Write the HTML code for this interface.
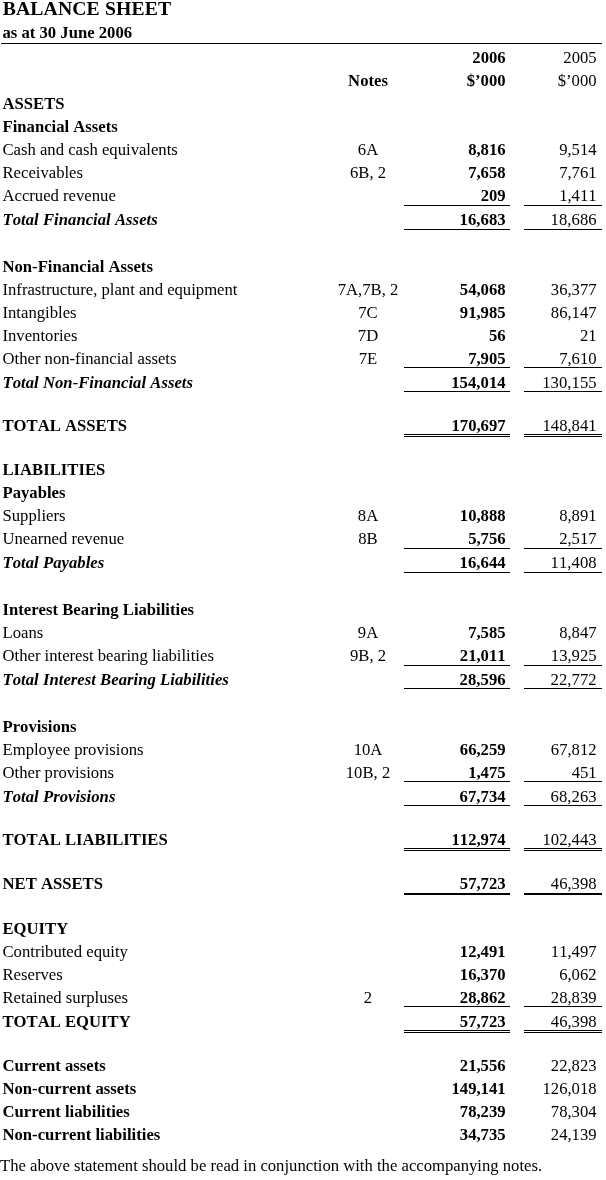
<!DOCTYPE html>
<html lang="en">
<head>
<meta charset="utf-8">
<title>Balance Sheet</title>
<style>
html,body{margin:0;padding:0;background:#fff;}
body{width:606px;height:1180px;position:relative;overflow:hidden;font-family:"Liberation Serif","Times New Roman",serif;font-size:16.67px;color:#000;font-kerning:none;line-height:22px;}
.r{position:absolute;left:0;width:606px;height:22px;white-space:nowrap;}
.r span{position:absolute;top:0;}
.l{left:2.5px;}
.n{left:318px;width:100px;text-align:center;}
.a{right:100.4px;font-weight:bold;font-style:normal;}
.c{right:9.4px;font-weight:normal;font-style:normal;}
.b{font-weight:bold;}
.bi{font-weight:bold;font-style:italic;letter-spacing:0.03px;}
.bi .n,.b .n{font-weight:normal;font-style:normal;}
.ln{position:absolute;height:1px;background:#000;}
.l1{left:404px;width:106px;}
.l2{left:524px;width:78px;}
h1{position:absolute;margin:0;left:2.7px;letter-spacing:0.13px;font-size:19.7px;line-height:24px;font-weight:bold;white-space:nowrap;}
</style>
</head>
<body>
<h1 style="top:-4.15px">BALANCE SHEET</h1>
<div class="r b" style="top:21.67px"><span class="l">as at 30 June 2006</span></div>
<div class="ln" style="left:1px;width:601px;top:43px"></div>
<div class="r" style="top:47.37px"><span class="a">2006</span><span class="c">2005</span></div>
<div class="r" style="top:70.37px"><span class="n b" style="font-weight:bold">Notes</span><span class="a">$’000</span><span class="c">$’000</span></div>
<div class="r b" style="top:93.37px"><span class="l">ASSETS</span></div>
<div class="r b" style="top:116.37px"><span class="l">Financial Assets</span></div>
<div class="r" style="top:139.37px"><span class="l">Cash and cash equivalents</span><span class="n">6A</span><span class="a">8,816</span><span class="c">9,514</span></div>
<div class="r" style="top:162.37px"><span class="l">Receivables</span><span class="n">6B, 2</span><span class="a">7,658</span><span class="c">7,761</span></div>
<div class="r" style="top:185.37px"><span class="l">Accrued revenue</span><span class="a">209</span><span class="c">1,411</span></div>
<div class="r bi" style="top:209.37px"><span class="l">Total Financial Assets</span><span class="a">16,683</span><span class="c">18,686</span></div>
<div class="r b" style="top:256.37px"><span class="l">Non-Financial Assets</span></div>
<div class="r" style="top:279.37px"><span class="l">Infrastructure, plant and equipment</span><span class="n">7A,7B, 2</span><span class="a">54,068</span><span class="c">36,377</span></div>
<div class="r" style="top:302.37px"><span class="l">Intangibles</span><span class="n">7C</span><span class="a">91,985</span><span class="c">86,147</span></div>
<div class="r" style="top:325.37px"><span class="l">Inventories</span><span class="n">7D</span><span class="a">56</span><span class="c">21</span></div>
<div class="r" style="top:348.37px"><span class="l">Other non-financial assets</span><span class="n">7E</span><span class="a">7,905</span><span class="c">7,610</span></div>
<div class="r bi" style="top:372.37px"><span class="l">Total Non-Financial Assets</span><span class="a">154,014</span><span class="c">130,155</span></div>
<div class="r b" style="top:415.37px"><span class="l">TOTAL ASSETS</span><span class="a">170,697</span><span class="c">148,841</span></div>
<div class="r b" style="top:459.37px"><span class="l">LIABILITIES</span></div>
<div class="r b" style="top:482.37px"><span class="l">Payables</span></div>
<div class="r" style="top:505.37px"><span class="l">Suppliers</span><span class="n">8A</span><span class="a">10,888</span><span class="c">8,891</span></div>
<div class="r" style="top:528.37px"><span class="l">Unearned revenue</span><span class="n">8B</span><span class="a">5,756</span><span class="c">2,517</span></div>
<div class="r bi" style="top:552.37px"><span class="l">Total Payables</span><span class="a">16,644</span><span class="c">11,408</span></div>
<div class="r b" style="top:599.37px"><span class="l">Interest Bearing Liabilities</span></div>
<div class="r" style="top:622.37px"><span class="l">Loans</span><span class="n">9A</span><span class="a">7,585</span><span class="c">8,847</span></div>
<div class="r" style="top:645.37px"><span class="l">Other interest bearing liabilities</span><span class="n">9B, 2</span><span class="a">21,011</span><span class="c">13,925</span></div>
<div class="r bi" style="top:669.37px"><span class="l">Total Interest Bearing Liabilities</span><span class="a">28,596</span><span class="c">22,772</span></div>
<div class="r b" style="top:716.37px"><span class="l">Provisions</span></div>
<div class="r" style="top:739.37px"><span class="l">Employee provisions</span><span class="n">10A</span><span class="a">66,259</span><span class="c">67,812</span></div>
<div class="r" style="top:762.37px"><span class="l">Other provisions</span><span class="n">10B, 2</span><span class="a">1,475</span><span class="c">451</span></div>
<div class="r bi" style="top:786.37px"><span class="l">Total Provisions</span><span class="a">67,734</span><span class="c">68,263</span></div>
<div class="r b" style="top:829.37px"><span class="l">TOTAL LIABILITIES</span><span class="a">112,974</span><span class="c">102,443</span></div>
<div class="r b" style="top:873.37px"><span class="l">NET ASSETS</span><span class="a">57,723</span><span class="c">46,398</span></div>
<div class="r b" style="top:918.37px"><span class="l">EQUITY</span></div>
<div class="r" style="top:941.37px"><span class="l">Contributed equity</span><span class="a">12,491</span><span class="c">11,497</span></div>
<div class="r" style="top:964.37px"><span class="l">Reserves</span><span class="a">16,370</span><span class="c">6,062</span></div>
<div class="r" style="top:987.37px"><span class="l">Retained surpluses</span><span class="n">2</span><span class="a">28,862</span><span class="c">28,839</span></div>
<div class="r b" style="top:1011.37px"><span class="l">TOTAL EQUITY</span><span class="a">57,723</span><span class="c">46,398</span></div>
<div class="r b" style="top:1055.37px"><span class="l">Current assets</span><span class="a">21,556</span><span class="c">22,823</span></div>
<div class="r b" style="top:1078.37px"><span class="l">Non-current assets</span><span class="a">149,141</span><span class="c">126,018</span></div>
<div class="r b" style="top:1101.37px"><span class="l">Current liabilities</span><span class="a">78,239</span><span class="c">78,304</span></div>
<div class="r b" style="top:1124.37px"><span class="l">Non-current liabilities</span><span class="a">34,735</span><span class="c">24,139</span></div>
<div class="ln l1" style="top:205px;height:1px"></div><div class="ln l2" style="top:205px;height:1px"></div>
<div class="ln l1" style="top:229px;height:1px"></div><div class="ln l2" style="top:229px;height:1px"></div>
<div class="ln l1" style="top:367px;height:1px"></div><div class="ln l2" style="top:367px;height:1px"></div>
<div class="ln l1" style="top:391px;height:1px"></div><div class="ln l2" style="top:391px;height:1px"></div>
<div class="ln l1" style="top:434px;height:1px"></div><div class="ln l2" style="top:434px;height:1px"></div>
<div class="ln l1" style="top:436px;height:1px"></div><div class="ln l2" style="top:436px;height:1px"></div>
<div class="ln l1" style="top:548px;height:1px"></div><div class="ln l2" style="top:548px;height:1px"></div>
<div class="ln l1" style="top:572px;height:1px"></div><div class="ln l2" style="top:572px;height:1px"></div>
<div class="ln l1" style="top:665px;height:1px"></div><div class="ln l2" style="top:665px;height:1px"></div>
<div class="ln l1" style="top:688px;height:1px"></div><div class="ln l2" style="top:688px;height:1px"></div>
<div class="ln l1" style="top:781px;height:1px"></div><div class="ln l2" style="top:781px;height:1px"></div>
<div class="ln l1" style="top:805px;height:1px"></div><div class="ln l2" style="top:805px;height:1px"></div>
<div class="ln l1" style="top:848px;height:1px"></div><div class="ln l2" style="top:848px;height:1px"></div>
<div class="ln l1" style="top:850px;height:1px"></div><div class="ln l2" style="top:850px;height:1px"></div>
<div class="ln l1" style="top:893px;height:2px"></div><div class="ln l2" style="top:893px;height:2px"></div>
<div class="ln l1" style="top:1006px;height:1px"></div><div class="ln l2" style="top:1006px;height:1px"></div>
<div class="ln l1" style="top:1030px;height:1px"></div><div class="ln l2" style="top:1030px;height:1px"></div>
<div class="ln l1" style="top:1032px;height:1px"></div><div class="ln l2" style="top:1032px;height:1px"></div>
<div class="r" style="top:1155.37px"><span style="left:0px">The above statement should be read in conjunction with the accompanying notes.</span></div>
</body>
</html>
